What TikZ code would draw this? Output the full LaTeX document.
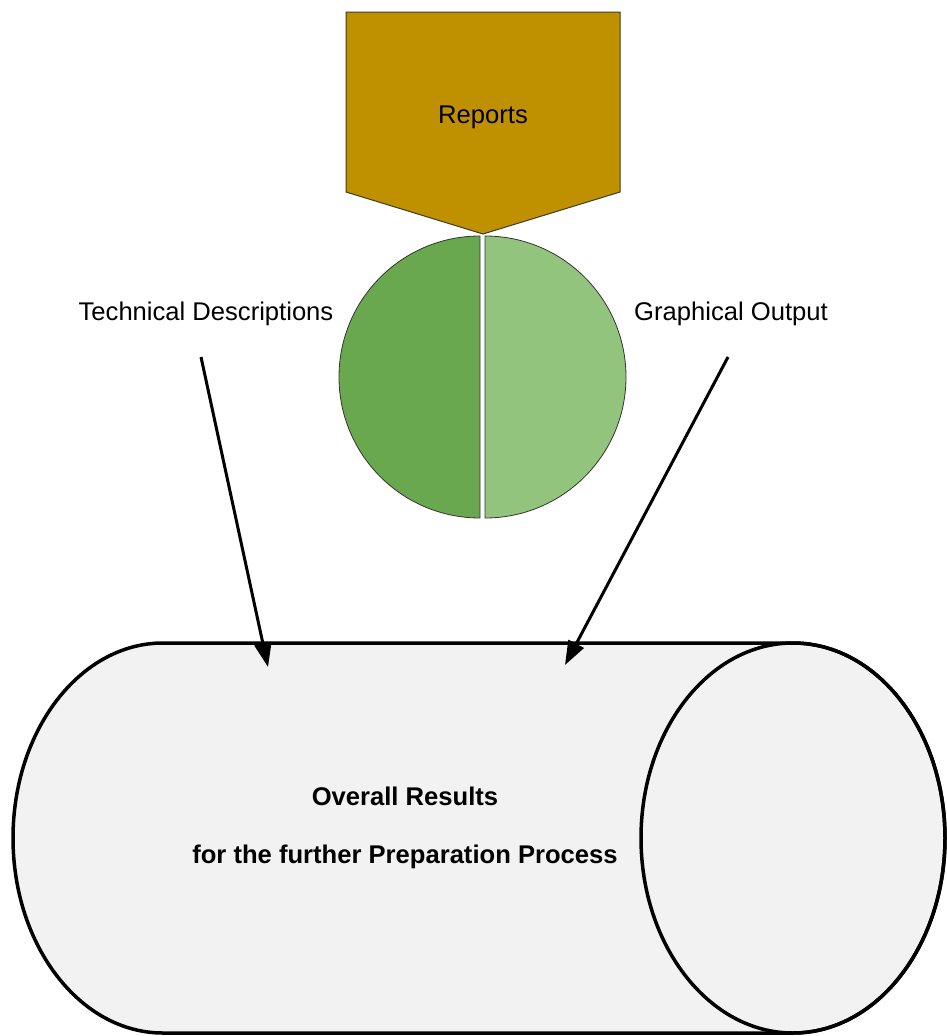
\documentclass[tikz,border=0pt]{standalone}
\usepackage{fontspec}
\setmainfont{Liberation Sans}
\usetikzlibrary{arrows.meta}
\definecolor{gold}{HTML}{BF9000}
\definecolor{gold line}{HTML}{3F3A26}
\definecolor{green dark}{HTML}{6AA84F}
\definecolor{green light}{HTML}{93C47D}
\definecolor{tube}{HTML}{F2F2F2}
\tikzset{
  label text/.style={font=\fontsize{25.6}{30}\selectfont, inner sep=0pt},
  bold text/.style={font=\fontsize{25.6}{30}\selectfont\bfseries, inner sep=0pt},
  half/.style={draw=black!80, line width=0.8pt},
  feed/.style={line width=3pt, -{Triangle[length=24pt,width=17pt]}},
}
\begin{document}
\begin{tikzpicture}[x=1pt,y=1pt]
\useasboundingbox (0,0) rectangle (947,-1036);

% report banner
\draw[fill=gold, draw=gold line, line width=1pt]
  (346,-12) -- (620,-12) -- (620,-192) -- (483,-234) -- (346,-192) -- cycle;
\node[label text] (reports) at (483,-117) {Reports};

% split disc
\filldraw[half, fill=green dark] (480,-236) arc[start angle=90, end angle=270, radius=141] -- cycle;
\filldraw[half, fill=green light] (485,-236) arc[start angle=90, end angle=-90, radius=141] -- cycle;

% side labels
\node[label text] (tech) at (206,-314) {Technical Descriptions};
\node[label text] (graph) at (731,-314) {Graphical Output};

% results tube
\filldraw[fill=tube, draw=black, line width=3.5pt]
  (793,-643) -- (163,-643)
  arc[start angle=90, end angle=270, x radius=150, y radius=195]
  -- (793,-1033)
  arc[start angle=-90, end angle=90, x radius=152, y radius=195] -- cycle;
\draw[black, line width=3.5pt] (793,-838) ellipse[x radius=152, y radius=195];
\node[bold text] (res1) at (405,-796) {Overall Results};
\node[bold text] (res2) at (405,-857) {for the further Preparation Process};

% feeds into the tube
\coordinate (techout) at (201,-357);
\coordinate (graphout) at (728,-357);
\coordinate (techin) at (268,-667);
\coordinate (graphin) at (565,-665);
\draw[feed] (techout) -- (techin);
\draw[feed] (graphout) -- (graphin);
\end{tikzpicture}
\end{document}
